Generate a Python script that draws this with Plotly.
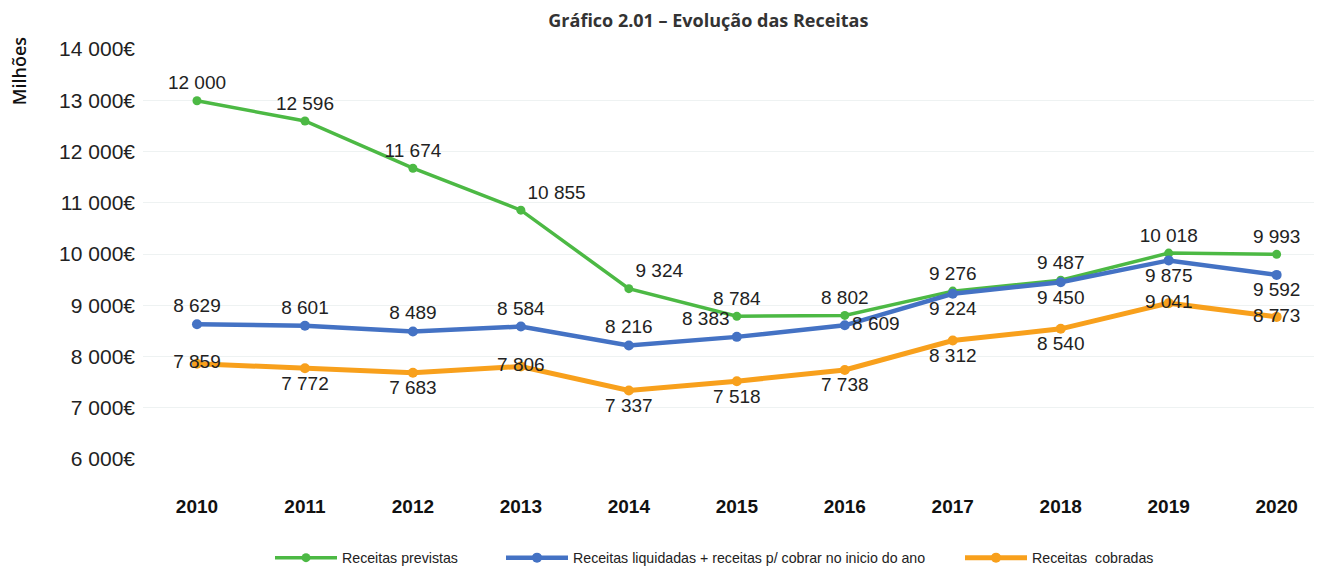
import plotly.graph_objects as go

years = ["2010", "2011", "2012", "2013", "2014", "2015", "2016", "2017", "2018", "2019", "2020"]
previstas = [12990, 12596, 11674, 10855, 9324, 8784, 8802, 9276, 9487, 10018, 9993]
previstas_labels = ["12 000", "12 596", "11 674", "10 855", "9 324", "8 784", "8 802", "9 276", "9 487", "10 018", "9 993"]
liquidadas = [8629, 8601, 8489, 8584, 8216, 8383, 8609, 9224, 9450, 9875, 9592]
liquidadas_labels = ["8 629", "8 601", "8 489", "8 584", "8 216", "8 383", "8 609", "9 224", "9 450", "9 875", "9 592"]
cobradas = [7859, 7772, 7683, 7806, 7337, 7518, 7738, 8312, 8540, 9041, 8773]
cobradas_labels = ["7 859", "7 772", "7 683", "7 806", "7 337", "7 518", "7 738", "8 312", "8 540", "9 041", "8 773"]
y_ticks = [6000, 7000, 8000, 9000, 10000, 11000, 12000, 13000, 14000]
y_tick_labels = ["6 000€", "7 000€", "8 000€", "9 000€", "10 000€", "11 000€", "12 000€", "13 000€", "14 000€"]

FONT = "Liberation Sans, Arial, sans-serif"
GREEN = "#4CB944"
BLUE = "#4472C4"
ORANGE = "#F8A01C"
LABEL_FONT = dict(family=FONT, size=19, color="#222")

fig = go.Figure()

fig.add_trace(go.Scatter(
    x=years, y=previstas, name="Receitas previstas", mode="lines+markers+text",
    line=dict(color=GREEN, width=3.5), marker=dict(size=9, color=GREEN),
    text=previstas_labels,
    textposition=["top center", "top center", "top center", "top right", "top right",
                  "top center", "top center", "top center", "top center", "top center", "top center"],
    textfont=LABEL_FONT, legend="legend",
    cliponaxis=False,
))
fig.add_trace(go.Scatter(
    x=years, y=liquidadas, name="Receitas liquidadas + receitas p/ cobrar no inicio do ano",
    mode="lines+markers+text",
    line=dict(color=BLUE, width=4.5), marker=dict(size=10, color=BLUE),
    text=liquidadas_labels,
    textposition=["top center", "top center", "top center", "top center", "top center",
                  "top left", "middle right", "bottom center", "bottom center", "bottom center", "bottom center"],
    textfont=LABEL_FONT, legend="legend2",
    cliponaxis=False,
))
fig.add_trace(go.Scatter(
    x=years, y=cobradas, name="Receitas  cobradas", mode="lines+markers+text",
    line=dict(color=ORANGE, width=5), marker=dict(size=10, color=ORANGE),
    text=cobradas_labels,
    textposition=["middle center", "bottom center", "bottom center", "middle center", "bottom center",
                  "bottom center", "bottom center", "bottom center", "bottom center", "middle center", "middle center"],
    textfont=LABEL_FONT, legend="legend3",
    cliponaxis=False,
))

fig.add_annotation(
    text="Milhões", textangle=-90, xref="paper", yref="paper",
    x=-0.1055, y=0.945, xanchor="center", yanchor="middle", showarrow=False,
    font=dict(family="Open Sans, sans-serif", size=18, color="#111", weight=600),
)

LEG_FONT = dict(family=FONT, size=14.2, color="#222")
def legend_at(xpx):
    return dict(orientation="h", xref="container", yref="container",
                x=xpx / 1314, xanchor="left", y=0.018, yanchor="middle",
                font=LEG_FONT, itemwidth=62, bgcolor="rgba(0,0,0,0)")

fig.update_layout(
    width=1314, height=560,
    margin=dict(l=135, r=0, t=41, b=109, autoexpand=False),
    paper_bgcolor="white", plot_bgcolor="white",
    title=dict(text="<b>Gráfico 2.01 – Evolução das Receitas</b>",
               font=dict(family="Open Sans, sans-serif", size=18, color="#333"),
               x=0.533, xanchor="center", xref="container",
               y=0.978, yanchor="middle", yref="container"),
    font=dict(family=FONT, color="#222"),
    showlegend=True,
    legend=legend_at(262),
    legend2=legend_at(493),
    legend3=legend_at(952),
    xaxis=dict(type="category", range=[-0.5, 10.42], showgrid=False, zeroline=False,
               showline=False, ticks="", ticklabelstandoff=34, automargin=False,
               tickfont=dict(family=FONT, size=19, color="#111", weight="bold")),
    yaxis=dict(range=[6000, 14000], tickvals=y_ticks, ticktext=y_tick_labels,
               showgrid=True, gridcolor="#EEF2F2", gridwidth=1, zeroline=False,
               showline=False, ticks="", ticklabelstandoff=7, automargin=False,
               tickfont=dict(family=FONT, size=21, color="#222")),
)

fig.write_html("out.html")
